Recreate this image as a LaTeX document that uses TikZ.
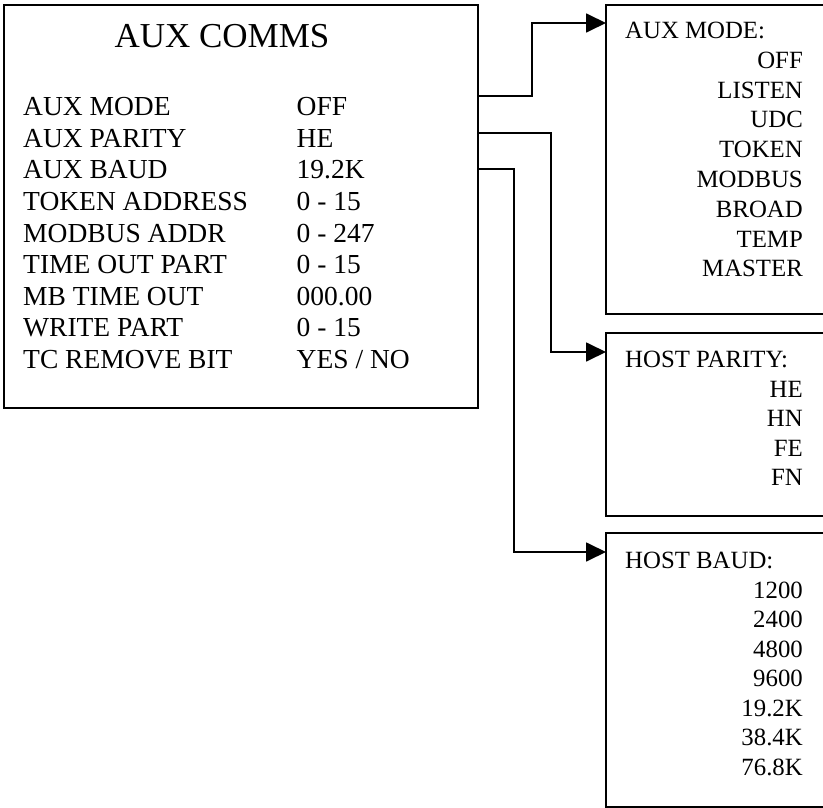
\documentclass[tikz,border=0pt]{standalone}
\usepackage{fontspec}
\setmainfont{Liberation Serif}
\usetikzlibrary{arrows.meta}
\tikzset{
  menubox/.style={draw, line width=1.8pt, anchor=north west, inner sep=0pt, outer sep=0pt},
  menutitle/.style={font=\fontsize{35}{40}\selectfont, anchor=base, inner sep=0pt},
  item/.style={font=\fontsize{27.5}{32}\selectfont, anchor=base west, inner sep=0pt},
  opthead/.style={font=\fontsize{24.8}{30}\selectfont, anchor=base west, inner sep=0pt},
  opt/.style={font=\fontsize{24.8}{30}\selectfont, anchor=base east, inner sep=0pt},
  link/.style={-{Triangle[length=20pt,width=19pt]}, line width=1.8pt}
}
\begin{document}
\begin{tikzpicture}[x=1pt,y=-1pt]
  \useasboundingbox (0,0) rectangle (823,808);
  \clip (0,0) rectangle (823,808);

  % boxes
  \path
    (4,5)     node[menubox, minimum width=474pt, minimum height=403pt] (aux) {}
    (606,5)   node[menubox, minimum width=224pt, minimum height=309pt] (mode) {}
    (606,333) node[menubox, minimum width=224pt, minimum height=183pt] (parity) {}
    (606,533) node[menubox, minimum width=224pt, minimum height=274pt] (baud) {};

  % main menu
  \path
    (222,47.3)  node[menutitle] (auxtitle) {AUX COMMS}
    (23,115.7)  node[item] (l1) {AUX MODE}
    (23,147.3)  node[item] (l2) {AUX PARITY}
    (23,178.9)  node[item] (l3) {AUX BAUD}
    (23,210.5)  node[item] (l4) {TOKEN ADDRESS}
    (23,242.1)  node[item] (l5) {MODBUS ADDR}
    (23,273.7)  node[item] (l6) {TIME OUT PART}
    (23,305.3)  node[item] (l7) {MB TIME OUT}
    (23,336.9)  node[item] (l8) {WRITE PART}
    (23,368.5)  node[item] (l9) {TC REMOVE BIT}
    (296.5,115.7) node[item] (v1) {OFF}
    (296.5,147.3) node[item] (v2) {HE}
    (296.5,178.9) node[item] (v3) {19.2K}
    (296.5,210.5) node[item] (v4) {0 - 15}
    (296.5,242.1) node[item] (v5) {0 - 247}
    (296.5,273.7) node[item] (v6) {0 - 15}
    (296.5,305.3) node[item] (v7) {000.00}
    (296.5,336.9) node[item] (v8) {0 - 15}
    (296.5,368.5) node[item] (v9) {YES / NO};

  % aux mode options
  \path
    (625,38.3)  node[opthead] (modehead) {AUX MODE:}
    (803,68.3)  node[opt] (m1) {OFF}
    (803,98.1)  node[opt] (m2) {LISTEN}
    (803,127.9) node[opt] (m3) {UDC}
    (803,157.7) node[opt] (m4) {TOKEN}
    (803,187.5) node[opt] (m5) {MODBUS}
    (803,217.3) node[opt] (m6) {BROAD}
    (803,247.1) node[opt] (m7) {TEMP}
    (803,276.9) node[opt] (m8) {MASTER};

  % parity options
  \path
    (625,367.3) node[opthead] (parityhead) {HOST PARITY:}
    (803,397.3) node[opt] (p1) {HE}
    (803,426.8) node[opt] (p2) {HN}
    (803,456.3) node[opt] (p3) {FE}
    (803,485.8) node[opt] (p4) {FN};

  % baud options
  \path
    (625,568.3) node[opthead] (baudhead) {HOST BAUD:}
    (803,598.3) node[opt] (b1) {1200}
    (803,627.8) node[opt] (b2) {2400}
    (803,657.3) node[opt] (b3) {4800}
    (803,686.8) node[opt] (b4) {9600}
    (803,716.3) node[opt] (b5) {19.2K}
    (803,745.8) node[opt] (b6) {38.4K}
    (803,775.3) node[opt] (b7) {76.8K};

  \draw[link] ([yshift=-91pt]aux.north east) -- ++(54,0) |- ([yshift=-18pt]mode.north west);
  \draw[link] ([yshift=-128pt]aux.north east) -- ++(73,0) |- ([yshift=-19pt]parity.north west);
  \draw[link] ([yshift=-164pt]aux.north east) -- ++(36,0) |- ([yshift=-19pt]baud.north west);
\end{tikzpicture}
\end{document}
